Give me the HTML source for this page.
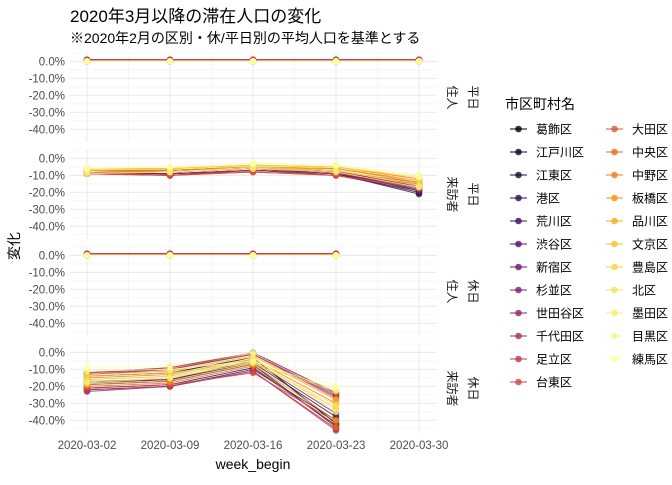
<!DOCTYPE html>
<html><head><meta charset="utf-8">
<style>
body{margin:0;background:#fff;font-family:"Liberation Sans","Noto Sans CJK JP",sans-serif;}
svg text{font-family:"Liberation Sans","Noto Sans CJK JP",sans-serif;}
</style></head>
<body>
<svg id="c" width="672" height="480" xmlns="http://www.w3.org/2000/svg">
<text x="70" y="22" font-size="17" fill="#000">2020年3月以降の滞在人口の変化</text>
<text x="70" y="43" font-size="14" fill="#000">※2020年2月の区別・休/平日別の平均人口を基準とする</text>
<text x="0" y="0" font-size="14" transform="translate(19,246) rotate(-90)" text-anchor="middle">変化</text>
<text x="253" y="469" font-size="14" text-anchor="middle">week_begin</text>
<text x="505" y="109" font-size="14">市区町村名</text>
<g id="g"></g>
</svg>
<script>
const weeks=["2020-03-02","2020-03-09","2020-03-16","2020-03-23","2020-03-30"];
const districts=["葛飾区","江戸川区","江東区","港区","荒川区","渋谷区","新宿区","杉並区","世田谷区","千代田区","足立区","台東区","大田区","中央区","中野区","板橋区","品川区","文京区","豊島区","北区","墨田区","目黒区","練馬区"];
const yTicks=[0,-10,-20,-30,-40];
const panelRows=["住人","来訪者","住人","来訪者"];
const panelDays=["平日","平日","休日","休日"];
const p1=[[0,0,0,0,0],[0,0,0,0,0],[0,0,0,0,0],[0,0,0,0,0],[0,0,0,0,0],[0,0,0,0,0],[0,0,0,0,0],[1,1,1,1,1],[1,1,1,1,1],[1,1,1,1,1],[1,1,1,1,1],[1,1,1,1,1],[0,0,0,0,0],[0,0,0,0,0],[0,0,0,0,0],[0,0,0,0,0],[0,0,0,0,0],[0,0,0,0,0],[0,0,0,0,0],[0,0,0,0,0],[0,0,0,0,0],[0,0,0,0,0],[0,0,0,0,0]];
const p2=[[-8,-8,-6,-8,-19],[-7,-7,-5,-7,-17],[-8,-8,-6,-9,-20],[-9,-9,-7,-9,-21],[-8,-9,-7,-9,-18],[-7,-8,-6,-8,-16],[-8,-9,-7,-9,-17],[-9,-10,-7,-10,-19],[-8,-9,-7,-9,-16],[-9,-10,-8,-10,-18],[-8,-10,-7,-9,-15],[-7,-8,-6,-8,-14],[-9,-10,-8,-10,-17],[-7,-7,-5,-6,-13],[-6,-6,-4,-5,-12],[-7,-7,-5,-6,-14],[-8,-8,-6,-7,-15],[-6,-6,-4,-5,-11],[-7,-6,-4,-5,-13],[-8,-8,-5,-7,-16],[-9,-8,-6,-8,-17],[-6,-5,-3,-4,-10],[-6,-5,-3,-4,-11]];
const p3=[[0,0,0,0],[0,0,0,0],[0,0,0,0],[0,0,0,0],[0,0,0,0],[0,0,0,0],[1,1,1,1],[1,1,1,1],[1,1,1,1],[1,1,1,1],[1,1,1,1],[1,1,1,1],[0,0,0,0],[0,0,0,0],[0,0,0,0],[0,0,0,0],[0,0,0,0],[0,0,0,0],[0,0,0,0],[0,0,0,0],[0,0,0,0],[0,0,0,0],[0,0,0,0]];
const p4=[[-14,-12,-3,-42],[-19,-17,-7,-44],[-21,-19,-9,-43],[-17,-16,-6,-38],[-22,-20,-10,-40],[-12,-9,0,-24],[-18,-16,-5,-36],[-13,-10,-1,-26],[-23,-20,-11,-45],[-12,-10,-1,-25],[-22,-20,-11,-46],[-21,-19,-12,-41],[-12,-9,-1,-27],[-20,-18,-8,-44],[-15,-13,-4,-30],[-19,-17,-7,-40],[-13,-11,-2,-28],[-16,-14,-5,-33],[-14,-12,-6,-23],[-17,-15,-6,-31],[-18,-15,-3,-35],[-11,-10,-5,-22],[-9,-8,0,-20]];
const panels=[p1,p2,p3,p4];

const NS="http://www.w3.org/2000/svg";
const g=document.getElementById('g');
function mk(t,a,p){const e=document.createElementNS(NS,t);for(const k in a)e.setAttribute(k,a[k]);(p||g).appendChild(e);return e;}
const stops=[[0,[0,0,4]],[0.1,[27,12,65]],[0.2,[74,12,107]],[0.3,[120,28,109]],[0.4,[165,44,96]],[0.5,[207,68,70]],[0.6,[237,105,37]],[0.7,[251,155,6]],[0.8,[247,209,61]],[0.9,[241,237,113]],[1,[252,255,164]]];
function inferno(t){for(let i=1;i<stops.length;i++){if(t<=stops[i][0]){const a=stops[i-1],b=stops[i],f=(t-a[0])/(b[0]-a[0]);return 'rgb('+a[1].map((v,j)=>Math.round(v+(b[1][j]-v)*f)).join(',')+')';}}return 'rgb(252,255,164)';}
const color=i=>inferno(i/(districts.length-1));
const X0=70,X1=437;
const xs=i=>87+i*83;
const panelTop=[53,150,247,344],PH=89,YMAX=5,YMIN=-47.5;
const ys=(p,v)=>panelTop[p]+(YMAX-v)/(YMAX-YMIN)*PH;

for(let p=0;p<4;p++){
  const pg=mk('g',{});
  
  
  for(let v=-45;v<=5;v+=10){const y=ys(p,v);if(y>=panelTop[p]&&y<=panelTop[p]+PH)mk('line',{x1:X0,x2:X1,y1:y,y2:y,stroke:'#f0f0f0','stroke-width':0.6},pg);}
  for(let i=0;i<4;i++){const x=(xs(i)+xs(i+1))/2;mk('line',{x1:x,x2:x,y1:panelTop[p],y2:panelTop[p]+PH,stroke:'#f0f0f0','stroke-width':0.6},pg);}
  yTicks.forEach(v=>{const y=ys(p,v);mk('line',{x1:X0,x2:X1,y1:y,y2:y,stroke:'#ebebeb','stroke-width':1.1},pg);
    const t=mk('text',{x:65,y:y+4,'font-size':11.5,fill:'#4d4d4d','text-anchor':'end'},pg);t.textContent=v.toFixed(1)+'%';
    });
  weeks.forEach((w,i)=>mk('line',{x1:xs(i),x2:xs(i),y1:panelTop[p],y2:panelTop[p]+PH,stroke:'#ebebeb','stroke-width':1.1},pg));
  const s1=mk('text',{x:0,y:0,'font-size':12,fill:'#1a1a1a','text-anchor':'middle',transform:`translate(448,${panelTop[p]+PH/2}) rotate(90)`},pg);s1.textContent=panelRows[p];
  
  const s2=mk('text',{x:0,y:0,'font-size':12,fill:'#1a1a1a','text-anchor':'middle',transform:`translate(469,${panelTop[p]+PH/2}) rotate(90)`},pg);s2.textContent=panelDays[p];
  
  const data=panels[p];
  data.forEach((vals,d)=>{
    const c=color(d);
    const pts=vals.map((v,i)=>xs(i)+','+ys(p,v)).join(' ');
    const pl=mk('polyline',{points:pts,fill:'none',stroke:c,'stroke-width':1,'stroke-opacity':0.8},pg);
    
    
    vals.forEach((v,i)=>{const ci=mk('circle',{cx:xs(i),cy:ys(p,v),r:3.3,fill:c,'fill-opacity':0.8},pg);
      
      });
  });
}
weeks.forEach((w,i)=>{const t=mk('text',{x:xs(i),y:449,'font-size':11.5,fill:'#4d4d4d','text-anchor':'middle'});t.textContent=w;
  });
districts.forEach((d,i)=>{
  const col=i<12?0:1,row=i<12?i:i-12;
  const kx=col?606:510,ty=129+row*23;
  const lg=mk('g',{});
  
  
  mk('line',{x1:kx,x2:kx+17,y1:ty,y2:ty,stroke:color(i),'stroke-width':1.2,'stroke-opacity':0.8},lg);
  mk('circle',{cx:kx+8.5,cy:ty,r:3.3,fill:color(i),'fill-opacity':0.8},lg);
  const t=mk('text',{x:kx+26,y:ty+4.5,'font-size':12,fill:'#000'},lg);t.textContent=d;
});
</script>
</body></html>
